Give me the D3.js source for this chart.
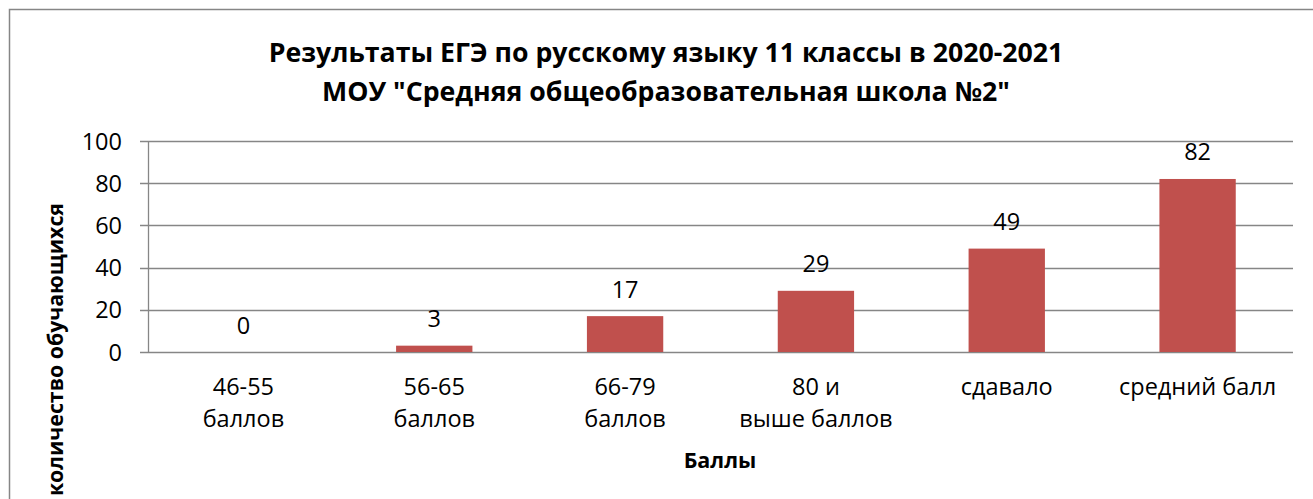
<!DOCTYPE html>
<html>
<head>
<meta charset="utf-8">
<script src="https://cdn.jsdelivr.net/npm/d3@7"></script>
<style>
  body { margin: 0; background: #fff; }
  #chart { width: 1313px; height: 499px; }
  text { font-family: "Open Sans", "Noto Sans", sans-serif; fill: #000; }
</style>
</head>
<body>
<div id="chart"></div>
<script>
var categories = [["46-55", "баллов"], ["56-65", "баллов"], ["66-79", "баллов"], ["80 и", "выше баллов"], ["сдавало"], ["средний балл"]];
var values = [0, 3, 17, 29, 49, 82];
var yTicks = [0, 20, 40, 60, 80, 100];
var titleLines = ["Результаты ЕГЭ по русскому языку 11 классы в 2020-2021", "МОУ \"Средняя общеобразовательная школа №2\""];

function drawChart() {
    var divElement = document.getElementById("chart");
    var width = 1313, height = 499;
    var left = 148, right = 1293, top = 141, bottom = 352;
    var grey = "#868686";

    var svg = d3.select(divElement).append("svg")
        .attr("width", width)
        .attr("height", height);

    // outer frame, cut off at right and bottom like the reference
    svg.append("rect")
        .attr("x", 9.5).attr("y", 9.5)
        .attr("width", 1400).attr("height", 600)
        .attr("fill", "none")
        .attr("stroke", grey)
        .attr("stroke-width", 1.5);

    var xScale = d3.scaleBand().domain(d3.range(values.length)).range([left, right]).paddingInner(0.6).paddingOuter(0.3);
    var yScale = d3.scaleLinear().domain([0, 100]).range([bottom, top]);

    // gridlines
    svg.append("g").selectAll("line")
        .data(yTicks)
        .enter()
        .append("line")
        .attr("x1", left - 8)
        .attr("x2", right)
        .attr("y1", d => Math.round(yScale(d)) + 0.5)
        .attr("y2", d => Math.round(yScale(d)) + 0.5)
        .attr("stroke", grey)
        .attr("stroke-width", 1.3);

    // y axis line
    svg.append("line")
        .attr("x1", left + 0.5).attr("x2", left + 0.5)
        .attr("y1", top).attr("y2", bottom)
        .attr("stroke", grey)
        .attr("stroke-width", 1.3);

    svg.append("g").selectAll("text")
        .data(yTicks)
        .enter()
        .append("text")
        .attr("x", left - 26)
        .attr("y", d => yScale(d) + 8.5)
        .attr("text-anchor", "end")
        .style("font-size", "23.5px")
        .text(d => d);

    // bars
    svg.append("g").selectAll("rect")
        .data(values)
        .enter()
        .append("rect")
        .attr("x", (d, i) => xScale(i))
        .attr("width", xScale.bandwidth())
        .attr("y", d => yScale(d))
        .attr("height", d => yScale(0) - yScale(d))
        .attr("fill", "#C0504D");

    // data labels
    svg.append("g").selectAll("text")
        .data(values)
        .enter()
        .append("text")
        .attr("x", (d, i) => xScale(i) + xScale.bandwidth() / 2)
        .attr("y", d => yScale(d) - 18.5)
        .attr("text-anchor", "middle")
        .style("font-size", "23.5px")
        .text(d => d);

    // category labels
    var catG = svg.append("g").selectAll("text")
        .data(categories)
        .enter()
        .append("text")
        .attr("text-anchor", "middle")
        .style("font-size", "23.5px");
    catG.selectAll("tspan")
        .data((d, i) => d.map(line => ({ line: line, i: i })))
        .enter()
        .append("tspan")
        .attr("x", d => xScale(d.i) + xScale.bandwidth() / 2)
        .attr("y", (d, j) => 395 + j * 31.5)
        .text(d => d.line);

    // axis titles
    svg.append("text")
        .attr("x", 720).attr("y", 468)
        .attr("text-anchor", "middle")
        .style("font-size", "21.5px")
        .style("font-weight", "bold")
        .text("Баллы");

    svg.append("text")
        .attr("transform", "translate(63,203) rotate(-90)")
        .attr("text-anchor", "end")
        .style("font-size", "21.3px")
        .style("font-weight", "bold")
        .text("количество обучающихся");

    // title
    svg.append("g").selectAll("text")
        .data(titleLines)
        .enter()
        .append("text")
        .attr("x", 666)
        .attr("y", (d, i) => 62 + i * 38.5)
        .attr("text-anchor", "middle")
        .style("font-size", "26.7px")
        .style("font-weight", "bold")
        .text(d => d);
}

drawChart();
</script>
</body>
</html>
